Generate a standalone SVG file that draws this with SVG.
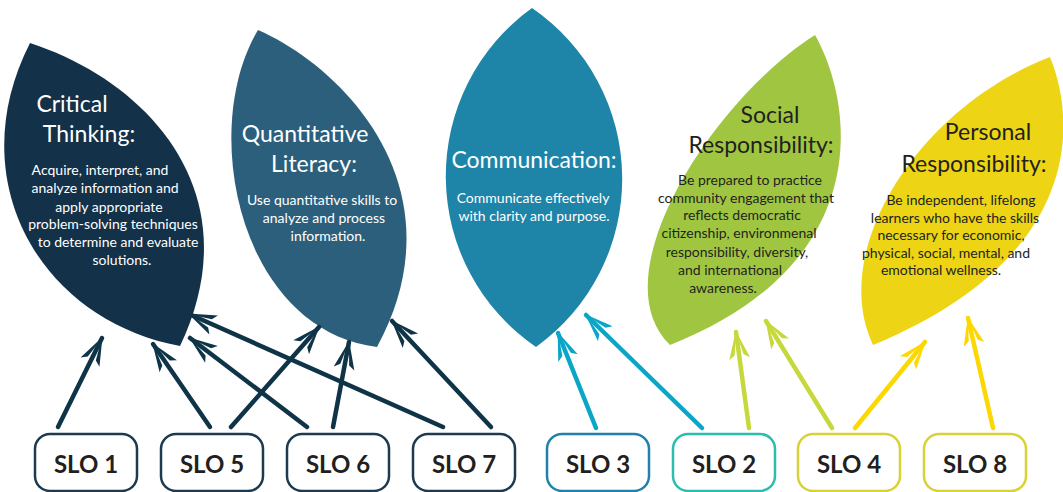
<svg xmlns="http://www.w3.org/2000/svg" width="1063" height="492" viewBox="0 0 1063 492">
  <style>
    .title { font-family: Lato, "Open Sans", "Liberation Sans", sans-serif; font-size: 23px; text-anchor: middle; }
    .body { font-family: Lato, "Open Sans", "Liberation Sans", sans-serif; font-size: 14px; text-anchor: middle; }
    .light { fill: #ffffff; }
    .darktxt { fill: #231f20; }
    .box { fill: #ffffff; stroke-width: 2.5; }
    .slo { font-family: Lato, "Open Sans", "Liberation Sans", sans-serif; font-size: 24px; font-weight: bold; fill: #231f20; text-anchor: middle; }
    .arr { fill: none; stroke-width: 4.5; stroke-linecap: round; }
    .navy { stroke: #0f3448; }
    .blue { stroke: #0aa6c7; }
    .green { stroke: #c6d83b; }
    .yellow { stroke: #fdd700; }
  </style>
  <defs>
    <marker id="hNavy" markerUnits="userSpaceOnUse" viewBox="-30 -12 32 24" refX="0" refY="0" markerWidth="32" markerHeight="24" orient="auto">
      <path d="M1,0 L-27,-10.5 L-23,-4.5 L-8,-1.5 L-8,1.5 L-23,4.5 L-27,10.5 Z" fill="#0f3448"/>
    </marker>
    <marker id="hBlue" markerUnits="userSpaceOnUse" viewBox="-30 -12 32 24" refX="0" refY="0" markerWidth="32" markerHeight="24" orient="auto">
      <path d="M1,0 L-27,-10.5 L-23,-4.5 L-8,-1.5 L-8,1.5 L-23,4.5 L-27,10.5 Z" fill="#0aa6c7"/>
    </marker>
    <marker id="hGreen" markerUnits="userSpaceOnUse" viewBox="-30 -12 32 24" refX="0" refY="0" markerWidth="32" markerHeight="24" orient="auto">
      <path d="M1,0 L-27,-10.5 L-23,-4.5 L-8,-1.5 L-8,1.5 L-23,4.5 L-27,10.5 Z" fill="#c6d83b"/>
    </marker>
    <marker id="hYellow" markerUnits="userSpaceOnUse" viewBox="-30 -12 32 24" refX="0" refY="0" markerWidth="32" markerHeight="24" orient="auto">
      <path d="M1,0 L-27,-10.5 L-23,-4.5 L-8,-1.5 L-8,1.5 L-23,4.5 L-27,10.5 Z" fill="#fdd700"/>
    </marker>
  </defs>
  <rect width="1063" height="492" fill="#ffffff"/>

  <g id="critical-thinking">
    <path d="M30,43 C150,82 252,195 180,346 C40,320 -40,180 30,43 Z" fill="#133149"/>
    <text class="title light" x="72" y="112">Critical</text>
    <text class="title light" x="89" y="142">Thinking:</text>
    <text class="body light" x="100" y="175">Acquire, interpret, and</text>
    <text class="body light" x="105" y="193">analyze information and</text>
    <text class="body light" x="109" y="212">apply appropriate</text>
    <text class="body light" x="113" y="229">problem-solving techniques</text>
    <text class="body light" x="118" y="247">to determine and evaluate</text>
    <text class="body light" x="122" y="265">solutions.</text>
  </g>

  <g id="quantitative-literacy">
    <path d="M258,30 C345,68 462,190 377,347 C240,330 198,130 258,30 Z" fill="#2c5f7b"/>
    <text class="title light" x="305" y="142">Quantitative</text>
    <text class="title light" x="314" y="172">Literacy:</text>
    <text class="body light" x="322" y="205">Use quantitative skills to</text>
    <text class="body light" x="324" y="223">analyze and process</text>
    <text class="body light" x="328" y="241">information.</text>
  </g>

  <g id="communication">
    <path d="M532,8 A207,207 0 0 1 536,347 A207,207 0 0 1 532,8 Z" fill="#1e84a8"/>
    <text class="title light" x="534" y="168">Communication:</text>
    <text class="body light" x="533" y="203">Communicate effectively</text>
    <text class="body light" x="534" y="221">with clarity and purpose.</text>
  </g>

  <g id="social-responsibility">
    <path d="M815,35 C852,100 880,262 670,345 C598,275 715,98 815,35 Z" fill="#a0c641"/>
    <text class="title darktxt" x="770" y="123">Social</text>
    <text class="title darktxt" x="761" y="153">Responsibility:</text>
    <text class="body darktxt" x="750" y="185">Be prepared to practice</text>
    <text class="body darktxt" x="746" y="203">community engagement that</text>
    <text class="body darktxt" x="742" y="220">reflects democratic</text>
    <text class="body darktxt" x="739" y="238">citizenship, environmenal</text>
    <text class="body darktxt" x="737" y="257">responsibility, diversity,</text>
    <text class="body darktxt" x="730" y="275">and international</text>
    <text class="body darktxt" x="723" y="293">awareness.</text>
  </g>

  <g id="personal-responsibility">
    <path d="M1050,57 C1074,115 1090,255 873,345 C828,250 918,108 1050,57 Z" fill="#edd515"/>
    <text class="title darktxt" x="988" y="140">Personal</text>
    <text class="title darktxt" x="974" y="172">Responsibility:</text>
    <text class="body darktxt" x="961" y="205">Be independent, lifelong</text>
    <text class="body darktxt" x="955" y="223">learners who have the skills</text>
    <text class="body darktxt" x="951" y="240">necessary for economic,</text>
    <text class="body darktxt" x="946" y="258">physical, social, mental, and</text>
    <text class="body darktxt" x="941" y="275">emotional wellness.</text>
  </g>

  <g id="connectors">
    <line class="arr navy" x1="58" y1="427" x2="102" y2="338" marker-end="url(#hNavy)"/>
    <line class="arr navy" x1="210" y1="427" x2="153" y2="344" marker-end="url(#hNavy)"/>
    <line class="arr navy" x1="231" y1="427" x2="319" y2="327" marker-end="url(#hNavy)"/>
    <line class="arr navy" x1="307" y1="427" x2="190" y2="338" marker-end="url(#hNavy)"/>
    <line class="arr navy" x1="333" y1="427" x2="349" y2="342" marker-end="url(#hNavy)"/>
    <line class="arr navy" x1="443" y1="427" x2="189" y2="314" marker-end="url(#hNavy)"/>
    <line class="arr navy" x1="491" y1="427" x2="392" y2="321" marker-end="url(#hNavy)"/>
    <line class="arr blue" x1="596" y1="428" x2="558" y2="333" marker-end="url(#hBlue)"/>
    <line class="arr blue" x1="702" y1="428" x2="586" y2="315" marker-end="url(#hBlue)"/>
    <line class="arr green" x1="749" y1="428" x2="736" y2="332" marker-end="url(#hGreen)"/>
    <line class="arr green" x1="832" y1="428" x2="766" y2="321" marker-end="url(#hGreen)"/>
    <line class="arr yellow" x1="855" y1="428" x2="925" y2="342" marker-end="url(#hYellow)"/>
    <line class="arr yellow" x1="993" y1="428" x2="968" y2="318" marker-end="url(#hYellow)"/>
  </g>

  <g id="slo1"><rect class="box" x="35" y="434" width="102" height="57" rx="15" stroke="#1c3a50"/><text class="slo" x="86" y="473">SLO 1</text></g>
  <g id="slo5"><rect class="box" x="161" y="434" width="102" height="57" rx="15" stroke="#1c3a50"/><text class="slo" x="212" y="473">SLO 5</text></g>
  <g id="slo6"><rect class="box" x="287" y="434" width="102" height="57" rx="15" stroke="#1c3a50"/><text class="slo" x="338" y="473">SLO 6</text></g>
  <g id="slo7"><rect class="box" x="413" y="434" width="102" height="57" rx="15" stroke="#1c3a50"/><text class="slo" x="464" y="473">SLO 7</text></g>
  <g id="slo3"><rect class="box" x="547" y="434" width="102" height="57" rx="15" stroke="#2280aa"/><text class="slo" x="598" y="473">SLO 3</text></g>
  <g id="slo2"><rect class="box" x="673" y="434" width="102" height="57" rx="15" stroke="#2dbdb0"/><text class="slo" x="724" y="473">SLO 2</text></g>
  <g id="slo4"><rect class="box" x="798" y="434" width="102" height="57" rx="15" stroke="#d9d234"/><text class="slo" x="849" y="473">SLO 4</text></g>
  <g id="slo8"><rect class="box" x="924" y="434" width="102" height="57" rx="15" stroke="#d9d234"/><text class="slo" x="975" y="473">SLO 8</text></g>
</svg>
